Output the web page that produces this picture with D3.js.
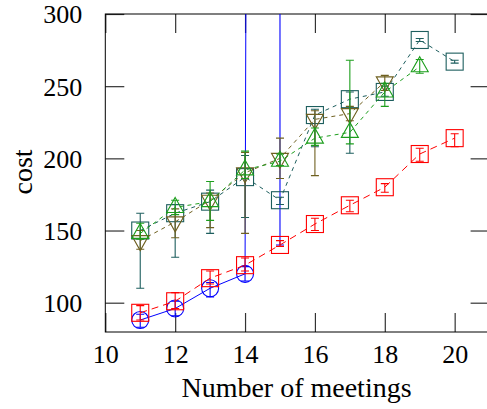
<!DOCTYPE html>
<html>
<head>
<meta charset="utf-8">
<script src="https://cdn.jsdelivr.net/npm/d3@7"></script>
<style>
html,body{margin:0;padding:0;background:#fff;}
svg{display:block;}
text{font-family:"Liberation Serif","Times New Roman",serif;fill:#000;}
</style>
</head>
<body>
<svg id="chart" width="487" height="409"></svg>
<script>
// ---- data ----
const xTicks = [10, 12, 14, 16, 18, 20];
const yTicks = [100, 150, 200, 250, 300];

const blueX = [11, 12, 13, 14, 15];
const blueY = [88, 96, 110, 120, 8000];
const blueLo = [83, 91, 104, 115, 140];
const blueHi = [92, 101, 114, 125, 16000];

const redX = [11, 12, 13, 14, 15, 16, 17, 18, 19, 20];
const redY = [93, 101, 117, 126, 140, 154.5, 167.5, 180, 203, 214];
const redLo = [88, 96, 113, 122, 139, 150, 163, 176.5, 198, 208];
const redHi = [98, 107, 122, 131, 143, 158.5, 171, 182.5, 207, 217];

const tealX = [11, 12, 13, 14, 15, 16, 17, 18, 19, 20];
const tealY = [150, 162, 170, 187, 171, 230, 241, 246, 282, 267];
const tealLo = [110, 131.5, 148, 159, 168, 208, 203.5, 243, 281, 266];
const tealHi = [162, 168, 178, 202, 173, 234, 246, 250, 283, 268];

const oliveX = [11, 12, 13, 14, 15, 16, 17, 18];
const oliveY = [143, 156, 171, 190, 200, 227, 231, 253];
const oliveLo = [137, 145, 152, 148, 186, 188, 226, 247];
const oliveHi = [150, 165, 176, 204, 214, 233, 236, 257.5];

const greenX = [11, 12, 13, 14, 15, 16, 17, 18, 19];
const greenY = [148, 166, 170, 192, 198, 214, 218, 246, 263.5];
const greenLo = [144, 161, 157, 186, 195, 209, 210, 236, 259];
const greenHi = [155, 171, 184, 205, 203, 221, 268, 252, 268.5];

// ---- layout ----
const svg = d3.select("#chart");
const L = 105.3, R = 489.6, T = 14, B = 332;
const x = d3.scaleLinear().domain([10, 21]).range([L, R]);
const y = d3.scaleLinear().domain([79.7, 300]).range([B, T]);

svg.append("defs").append("clipPath").attr("id", "clip")
  .append("rect").attr("x", L).attr("y", T).attr("width", R - L).attr("height", B - T);

// axes (inward ticks)
const tickColor = "#333";
const gL = svg.append("g").attr("transform", `translate(${L},0)`)
  .call(d3.axisLeft(y).tickValues(yTicks).tickSizeInner(-19).tickSizeOuter(0).tickPadding(23).tickFormat(d3.format("d")));
const gR = svg.append("g").attr("transform", `translate(${R},0)`)
  .call(d3.axisRight(y).tickValues(yTicks).tickSizeInner(-19).tickSizeOuter(0).tickFormat(""));
const gB = svg.append("g").attr("transform", `translate(0,${B})`)
  .call(d3.axisBottom(x).tickValues(xTicks).tickSizeInner(-19).tickSizeOuter(0).tickFormat(d3.format("d")));
const gT = svg.append("g").attr("transform", `translate(0,${T})`)
  .call(d3.axisTop(x).tickValues(xTicks).tickSizeInner(-19).tickSizeOuter(0).tickFormat(""));
[gL, gR, gB, gT].forEach(g => {
  g.select(".domain").remove();
  g.selectAll(".tick line").attr("stroke", tickColor).attr("stroke-width", 1.2);
  g.selectAll("text").attr("font-family", '"Liberation Serif",serif').attr("font-size", 26).attr("fill", "#000");
});
gB.selectAll("text").attr("y", 31).attr("dy", null);
gL.selectAll("text").attr("dy", "0.34em");

// frame
svg.append("rect").attr("x", L).attr("y", T).attr("width", R - L).attr("height", B - T)
  .attr("fill", "none").attr("stroke", "#000").attr("stroke-width", 1);

// axis titles
svg.append("text").attr("x", 296.5).attr("y", 397).attr("text-anchor", "middle")
  .attr("font-size", 28).text("Number of meetings");
svg.append("text").attr("transform", "translate(32,172) rotate(-90)").attr("text-anchor", "middle")
  .attr("font-size", 28).text("cost");

// ---- series ----
const plot = svg.append("g").attr("clip-path", "url(#clip)");

function marker(g, type, cx, cy, color) {
  const s = 8.5;
  if (type === "circle") {
    g.append("circle").attr("cx", cx).attr("cy", cy).attr("r", s)
      .attr("fill", "none").attr("stroke", color).attr("stroke-width", 1.1);
  } else if (type === "square") {
    g.append("rect").attr("x", cx - s).attr("y", cy - s).attr("width", 2 * s).attr("height", 2 * s)
      .attr("fill", "none").attr("stroke", color).attr("stroke-width", 1.1);
  } else if (type === "up") {
    g.append("path").attr("d", `M${cx},${cy - 10}L${cx + 8.5},${cy + 5}L${cx - 8.5},${cy + 5}Z`)
      .attr("fill", "none").attr("stroke", color).attr("stroke-width", 1.1);
  } else if (type === "down") {
    g.append("path").attr("d", `M${cx},${cy + 10}L${cx + 8.5},${cy - 5}L${cx - 8.5},${cy - 5}Z`)
      .attr("fill", "none").attr("stroke", color).attr("stroke-width", 1.1);
  }
}

function series(xs, ys, lo, hi, color, type, dash) {
  const g = plot.append("g");
  const pts = xs.map((d, i) => [d, ys[i], lo[i], hi[i]]);
  g.append("path").datum(pts)
    .attr("d", d3.line().x(d => x(d[0])).y(d => y(d[1])))
    .attr("fill", "none").attr("stroke", color).attr("stroke-width", 1)
    .attr("stroke-dasharray", dash);
  pts.forEach(p => {
    const cx = x(p[0]);
    const ylo = y(p[2]), yhi = y(p[3]);
    g.append("line").attr("x1", cx).attr("x2", cx).attr("y1", ylo).attr("y2", yhi)
      .attr("stroke", color).attr("stroke-width", 1.1);
    [ylo, yhi].forEach(v => g.append("line").attr("x1", cx - 4).attr("x2", cx + 4)
      .attr("y1", v).attr("y2", v).attr("stroke", color).attr("stroke-width", 1.1));
    marker(g, type, cx, y(p[1]), color);
  });
}

series(blueX, blueY, blueLo, blueHi, "#0000ff", "circle", null);
series(redX, redY, redLo, redHi, "#ff0000", "square", "7,5");
series(tealX, tealY, tealLo, tealHi, "#1d5e5e", "square", "4,4");
series(oliveX, oliveY, oliveLo, oliveHi, "#6f6020", "down", "4,4");
series(greenX, greenY, greenLo, greenHi, "#1c9e1c", "up", "4,4");
</script>
</body>
</html>
